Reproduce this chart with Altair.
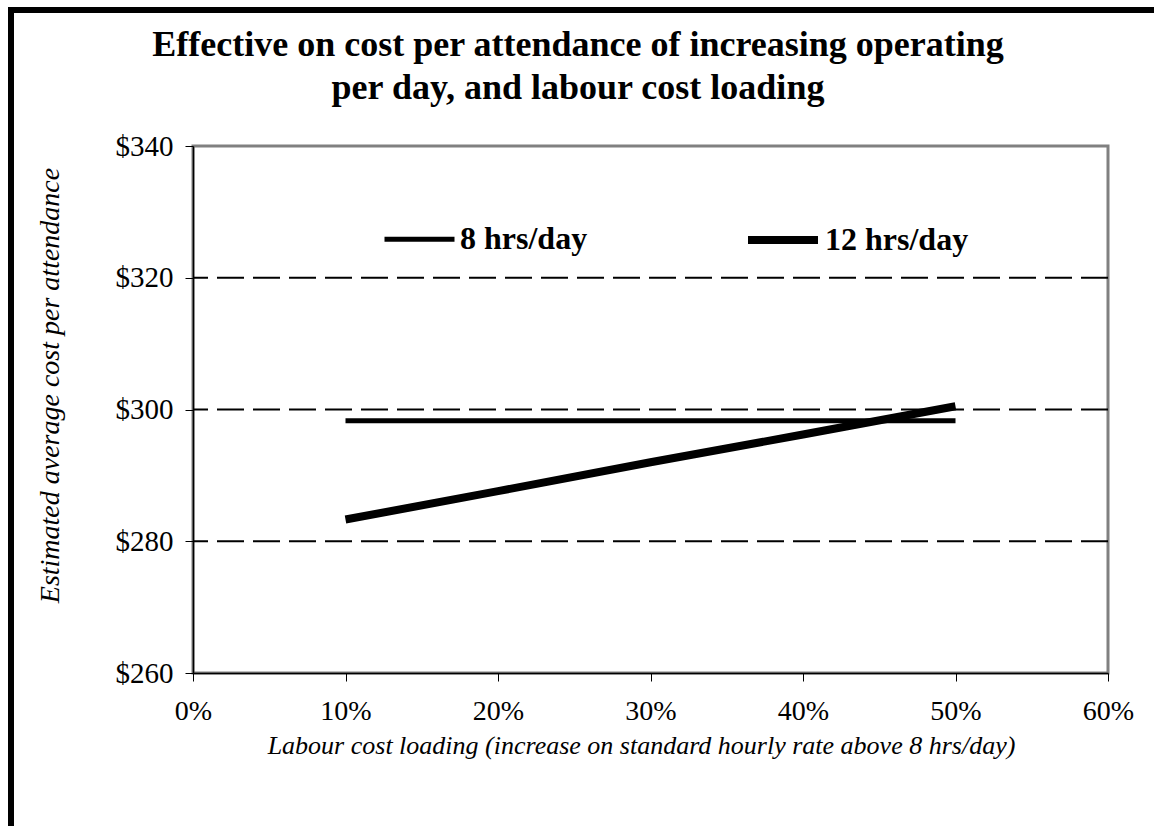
import altair as alt
import pandas as pd

# ---- data ----
loading = [0.10, 0.20, 0.30, 0.40, 0.50]
hrs8 = [298.3, 298.3, 298.3, 298.3, 298.3]
hrs12 = [283.3, 287.6, 292.0, 296.2, 300.5]
series_names = ["8 hrs/day", "12 hrs/day"]
grid_values = [280, 320, 300]
y_ticks = [260, 280, 300, 320, 340]
x_ticks = [0, 0.1, 0.2, 0.3, 0.4, 0.5, 0.6]

title_lines = ["Effective on cost per attendance of increasing operating",
               "per day, and labour cost loading"]
x_title = "Labour cost loading (increase on standard hourly rate above 8 hrs/day)"
y_title = "Estimated average cost per attendance"

rows = []
for name, vals in zip(series_names, [hrs8, hrs12]):
    for l, v in zip(loading, vals):
        rows.append({"loading": l, "cost": v, "series": name})
df = pd.DataFrame(rows)
grid_df = pd.DataFrame({"g": grid_values})

W, H = 915, 527
SERIF = "Liberation Serif"

xscale = alt.Scale(domain=[0, 0.6], nice=False)
yscale = alt.Scale(domain=[260, 340], nice=False, zero=False)

grid = alt.Chart(grid_df).mark_rule(color="black", strokeWidth=2, strokeDash=[27, 9]).encode(
    y=alt.Y("g:Q", scale=yscale)
)

lines = alt.Chart(df).mark_line(color="black", strokeCap="butt").encode(
    x=alt.X("loading:Q", scale=xscale,
            axis=alt.Axis(values=x_ticks, format=".0%", grid=False, tickSize=8,
                          tickColor="black", domainColor="black", domainWidth=1.5,
                          labelFont=SERIF, labelFontSize=28, labelColor="black",
                          labelPadding=16, labelFlush=False,
                          title=x_title, titleFont=SERIF, titleFontSize=26,
                          titleFontStyle="italic", titleFontWeight="normal",
                          titleColor="black", titleX=448, titleY=72,
                          titleAlign="center", titleBaseline="middle")),
    y=alt.Y("cost:Q", scale=yscale,
            axis=alt.Axis(values=y_ticks, format="$.0f", grid=False, tickSize=8,
                          tickColor="black", domainColor="black", domainWidth=1.5,
                          labelFont=SERIF, labelFontSize=29, labelColor="black",
                          labelPadding=12,
                          title=y_title, titleFont=SERIF, titleFontSize=28,
                          titleFontStyle="italic", titleFontWeight="normal",
                          titleColor="black", titleX=-143, titleY=239,
                          titleAngle=270, titleAlign="center", titleBaseline="middle")),
    strokeWidth=alt.StrokeWidth("series:N",
                                scale=alt.Scale(domain=series_names, range=[5, 8]),
                                sort=series_names,
                                legend=alt.Legend(orient="none", legendX=189, legendY=55,
                                                  direction="horizontal", title=None,
                                                  symbolType="stroke", symbolSize=4900,
                                                  symbolStrokeColor="black",
                                                  labelFont=SERIF, labelFontSize=32,
                                                  labelFontWeight="bold", labelColor="black",
                                                  labelOffset=3, columnPadding=144,
                                                  padding=0)),
    detail="series:N",
)

title1 = alt.Chart().mark_text(font=SERIF, fontSize=36, fontWeight="bold", color="black",
                               align="center", baseline="middle").encode(
    x=alt.value(385), y=alt.value(-101), text=alt.value(title_lines[0]))
title2 = alt.Chart().mark_text(font=SERIF, fontSize=36, fontWeight="bold", color="black",
                               align="center", baseline="middle").encode(
    x=alt.value(385), y=alt.value(-58), text=alt.value(title_lines[1]))

frame_left = alt.Chart().mark_rule(color="black", strokeWidth=6, strokeCap="butt").encode(
    x=alt.value(-182), y=alt.value(-139), y2=alt.value(690))
frame_top = alt.Chart().mark_rule(color="black", strokeWidth=6, strokeCap="butt").encode(
    x=alt.value(-185), x2=alt.value(970), y=alt.value(-136))

chart = alt.layer(grid, lines, title1, title2, frame_left, frame_top).properties(
    width=W, height=H,
    autosize=alt.AutoSizeParams(type="none"),
    padding={"left": 193, "top": 146, "right": 46, "bottom": 153},
    background="white",
).configure_view(stroke="#808080", strokeWidth=3)

chart.save("out.html", embed_options={"renderer": "svg", "actions": False})
